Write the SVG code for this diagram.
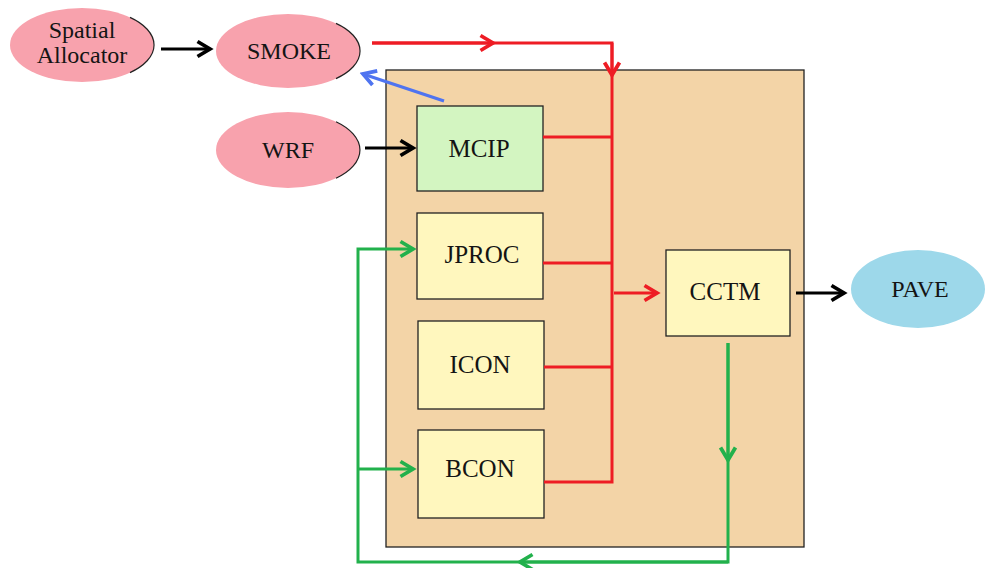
<svg xmlns="http://www.w3.org/2000/svg" width="985" height="568" viewBox="0 0 985 568">
<style>
.lbl{font-family:"Liberation Serif","Times New Roman",serif;font-size:24px;fill:#141414;text-anchor:middle}
.bl{font-size:25px}
.ell{fill:#F8A2AD}
.shadow{fill:none;stroke:#222;stroke-width:1.2}
.box{stroke:#222;stroke-width:1.3}
.yel{fill:#FFF7BE}
.red{fill:none;stroke:#EE1C24;stroke-width:3}
.grn{fill:none;stroke:#22B14C;stroke-width:3}
.blk{fill:none;stroke:#000;stroke-width:3}
.blu{fill:none;stroke:#4F74F0;stroke-width:3}
</style>
<defs>
<marker id="aR" markerUnits="userSpaceOnUse" markerWidth="20" markerHeight="20" viewBox="-12 -8 14 16" refX="0" refY="0" orient="auto"><path d="M-10,-6 L0,0 L-10,6" fill="none" stroke="#EE1C24" stroke-width="3"/></marker>
<marker id="aG" markerUnits="userSpaceOnUse" markerWidth="20" markerHeight="20" viewBox="-12 -8 14 16" refX="0" refY="0" orient="auto"><path d="M-10,-6 L0,0 L-10,6" fill="none" stroke="#22B14C" stroke-width="3"/></marker>
<marker id="aK" markerUnits="userSpaceOnUse" markerWidth="20" markerHeight="20" viewBox="-12 -8 14 16" refX="0" refY="0" orient="auto"><path d="M-10,-6 L0,0 L-10,6" fill="none" stroke="#000" stroke-width="3"/></marker>
<marker id="aB" markerUnits="userSpaceOnUse" markerWidth="20" markerHeight="20" viewBox="-12 -8 14 16" refX="0" refY="0" orient="auto"><path d="M-10,-6 L0,0 L-10,6" fill="none" stroke="#4F74F0" stroke-width="3"/></marker>
</defs>
<g id="cmaq-box">
<rect x="386" y="70" width="418" height="477" fill="#F3D4A7" stroke="#222" stroke-width="1.3"/>
</g>
<g id="spatial-allocator">
<ellipse class="ell" cx="82" cy="45" rx="72" ry="37"/>
<path class="shadow" d="M130,17.4 A72,37 0 0 1 130,72.6"/>
<text class="lbl" x="82" y="38">Spatial</text>
<text class="lbl" x="82" y="63">Allocator</text>
</g>
<g id="smoke">
<ellipse class="ell" cx="288" cy="51" rx="72" ry="37"/>
<path class="shadow" d="M336,23.4 A72,37 0 0 1 336,78.6"/>
<text class="lbl" x="289" y="59">SMOKE</text>
</g>
<g id="wrf">
<ellipse class="ell" cx="288" cy="150" rx="72" ry="38"/>
<path class="shadow" d="M336,121.7 A72,38 0 0 1 336,178.3"/>
<text class="lbl" x="288" y="158">WRF</text>
</g>
<g id="pave">
<ellipse cx="918" cy="289" rx="67" ry="39" fill="#9DD8EA"/>
<text class="lbl" x="920" y="297">PAVE</text>
</g>
<g id="mcip">
<rect class="box" x="417" y="106" width="126" height="85" fill="#D3F5C1"/>
<text class="lbl bl" x="479" y="157">MCIP</text>
</g>
<g id="jproc">
<rect class="box yel" x="417" y="213" width="126" height="86"/>
<text class="lbl bl" x="482" y="263">JPROC</text>
</g>
<g id="icon">
<rect class="box yel" x="418" y="321" width="126" height="88"/>
<text class="lbl bl" x="480" y="373">ICON</text>
</g>
<g id="bcon">
<rect class="box yel" x="418" y="430" width="126" height="88"/>
<text class="lbl bl" x="480" y="477">BCON</text>
</g>
<g id="cctm">
<rect class="box yel" x="666" y="250" width="124" height="86"/>
<text class="lbl bl" x="725" y="300">CCTM</text>
</g>
<g id="connectors">
<path class="blk" d="M161,49 H210" marker-end="url(#aK)"/>
<path class="blk" d="M365,148 H413" marker-end="url(#aK)"/>
<path class="blk" d="M796,293 H844" marker-end="url(#aK)"/>
<path class="blu" d="M444,101 L363,74" marker-end="url(#aB)"/>
<path class="red" d="M372,43 H612 V482 H544"/>
<path class="red" d="M372,43 H493" marker-end="url(#aR)"/>
<path class="red" d="M612,43 V75" marker-end="url(#aR)"/>
<path class="red" d="M543,137 H612"/>
<path class="red" d="M543,263 H612"/>
<path class="red" d="M544,367 H612"/>
<path class="red" d="M614,293 H657" marker-end="url(#aR)"/>
<path class="grn" d="M728,343 V562 H358 V249 H413" marker-end="url(#aG)"/>
<path class="grn" d="M728,343 V460" marker-end="url(#aG)"/>
<path class="grn" d="M728,562 H520" marker-end="url(#aG)"/>
<path class="grn" d="M358,469 H413" marker-end="url(#aG)"/>
</g>
</svg>
